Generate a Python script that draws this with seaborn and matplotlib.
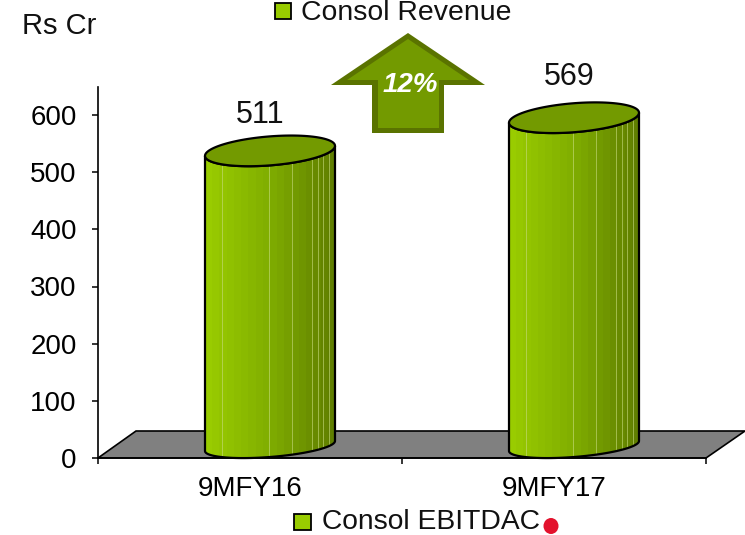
"""Consol revenue cylinder chart, 9MFY16 vs 9MFY17."""

import numpy as np
import pandas as pd
import matplotlib
matplotlib.use('Agg')
import matplotlib.pyplot as plt
import seaborn as sns
from matplotlib.patches import Polygon, Rectangle, Ellipse

periods = ['9MFY16', '9MFY17']
revenue = [511, 569]
y_ticks = [0, 100, 200, 300, 400, 500, 600]
growth_label = '12%'
unit_label = 'Rs Cr'
legend_top = 'Consol Revenue'
legend_bottom = 'Consol EBITDAC'

W, H = 745, 535
AX_L, AX_R, AX_T, AX_B = 98, 706, 87, 458
PX_PER_UNIT = 343 / 600
LABEL_OFFSETS = [(-10, 51), (-5, 56)]


def body_colors():
    """Left to right shading of the cylinder, in flat facets."""
    stops = np.array([[0.60, 0.80, 0.0], [0.50, 0.68, 0.0], [0.38, 0.50, 0.0]])
    t = np.linspace(0, 1, 18)
    rgb = np.stack([np.interp(t, [0, 0.5, 1], stops[:, i]) for i in range(3)], axis=-1)
    return rgb[np.newaxis, :, :]


def draw_cylinder(ax, cx, value):
    """Draw one cylinder whose front top edge sits at value."""
    sx = (AX_R - AX_L) / 2
    a = 65 / sx
    t = np.linspace(0, np.pi, 60)
    u = np.cos(t)

    def py(px):
        return px / PX_PER_UNIT

    top_c = value + py(15)
    top_upper = top_c + py(5) * u + py(14.5) * np.sin(t)
    top_lower = top_c + py(5) * u - py(14.5) * np.sin(t)
    bot_c = py(12)
    bot_lower = bot_c + py(5) * u - py(11) * np.sin(t)
    xs = cx + a * u

    # body outline: along the bottom front, up the left side, back over the top front
    vx = np.r_[xs, xs[::-1]]
    vy = np.r_[bot_lower, top_lower[::-1]]
    body = Polygon(np.c_[vx, vy], closed=True, transform=ax.transData,
                   facecolor='none', edgecolor='black', linewidth=1.6, zorder=4,
                   clip_on=False)

    im = ax.imshow(body_colors(), extent=[cx - a, cx + a, 0, top_c], aspect='auto',
                   interpolation='nearest', zorder=3, origin='lower')
    clip = Polygon(np.c_[vx, vy], closed=True, transform=ax.transData)
    im.set_clip_path(clip)

    for f in [0.13, 0.49, 0.67, 0.82, 0.87, 0.91, 0.95]:
        ln, = ax.plot([cx - a + 2 * a * f] * 2, [0, top_c], color='#c8dc80', lw=0.7,
                      alpha=0.6, zorder=3.5)
        ln.set_clip_path(clip)
    ax.add_patch(body)

    top = Polygon(np.c_[np.r_[xs, xs[::-1]], np.r_[top_upper, top_lower[::-1]]],
                  closed=True, facecolor='#739a00', edgecolor='black', linewidth=1.6,
                  zorder=5, clip_on=False)
    ax.add_patch(top)


sns.set_theme(style='white')
plt.rcParams['font.family'] = ['Liberation Sans', 'DejaVu Sans']

fig = plt.figure(figsize=(W / 100, H / 100), dpi=100)

# overlay in pixel coordinates for the floor, arrow and legend keys
back = fig.add_axes([0, 0, 1, 1], zorder=0)
back.set_xlim(0, W)
back.set_ylim(H, 0)
back.axis('off')
back.add_patch(Polygon([(98, 458), (136, 431), (745, 431), (706, 458)], closed=True,
                       facecolor='#808080', edgecolor='black', linewidth=1.2))

ax = fig.add_axes([AX_L / W, 1 - AX_B / H, (AX_R - AX_L) / W, (AX_B - AX_T) / H], zorder=1)
ax.patch.set_alpha(0)

df = pd.DataFrame({'period': periods, 'revenue': revenue})
sns.barplot(data=df, x='period', y='revenue', ax=ax, color='#99cc00', width=0.43)

for i, bar in enumerate(ax.patches):
    bar.set_visible(False)
    cx = bar.get_x() + bar.get_width() / 2 + 20 / 304
    draw_cylinder(ax, cx, bar.get_height())
    ax.annotate(str(revenue[i]), xy=(cx, bar.get_height()), xytext=LABEL_OFFSETS[i],
                textcoords='offset pixels', ha='center', va='center', fontsize=22,
                color='#111111', annotation_clip=False)

ax.set_xlim(-0.5, 1.5)
ax.set_ylim(0, (AX_B - AX_T) / PX_PER_UNIT)
ax.set_xlabel('')
ax.set_ylabel('')
ax.set_yticks(y_ticks)
ax.set_xticks([0, 1], periods)
ax.set_xticks([-0.5, 0.5, 1.5], minor=True)
ax.tick_params(axis='y', labelsize=20, length=4.3, width=1.1, left=True, pad=11, colors='black')
ax.tick_params(axis='x', which='major', labelsize=20, length=0, pad=13, colors='black')
ax.tick_params(axis='x', which='minor', length=4.3, width=1.1, bottom=True, color='black')
for side in ['top', 'right']:
    ax.spines[side].set_visible(False)
for side in ['left', 'bottom']:
    ax.spines[side].set_color('black')
    ax.spines[side].set_linewidth(1.2)

front = fig.add_axes([0, 0, 1, 1], zorder=2)
front.set_xlim(0, W)
front.set_ylim(H, 0)
front.axis('off')

# growth arrow
front.add_patch(Polygon([(408, 33), (331, 85), (372, 85), (372, 133), (444, 133),
                         (444, 85), (485, 85)], closed=True, facecolor='#5a7300',
                        edgecolor='none'))
front.add_patch(Polygon([(408, 39), (347, 80), (378, 80), (378, 128), (439, 128),
                         (439, 80), (469, 80)], closed=True, facecolor='#739a00',
                        edgecolor='none'))
front.text(410, 85, growth_label, color='white', fontsize=20, fontweight='bold',
           fontstyle='italic', ha='center', va='center')

front.text(22, 26, unit_label, fontsize=21, color='#111111', ha='left', va='center')

# legends
front.add_patch(Rectangle((275, 3), 16, 16, facecolor='#99cc00', edgecolor='black', linewidth=1.3))
front.text(301, 20, legend_top, fontsize=20.4, color='#111111', ha='left', va='baseline')
front.add_patch(Rectangle((294, 514), 17, 16, facecolor='#99cc00', edgecolor='black', linewidth=1.3))
front.text(322, 529, legend_bottom, fontsize=20.3, color='#111111', ha='left', va='baseline')
front.add_patch(Ellipse((551, 526), 15, 16, facecolor='#e3122d', edgecolor='none'))

fig.savefig('out.png', dpi=100)
